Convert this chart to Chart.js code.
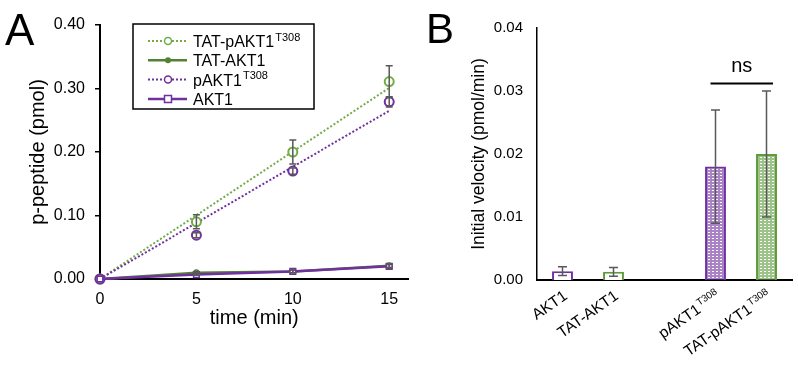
<!DOCTYPE html>
<html>
<head>
<meta charset="utf-8">
<script src="https://cdn.jsdelivr.net/npm/chart.js@4.4.1/dist/chart.umd.min.js"></script>
<style>
  html, body { margin: 0; padding: 0; background: #fff; }
  #wrap { position: relative; width: 798px; height: 369px; overflow: hidden; }
  #chartA { position: absolute; left: 0; top: 0; }
  #chartB { position: absolute; left: 415px; top: 0; }
</style>
</head>
<body>
<div id="wrap">
  <canvas id="chartA" width="415" height="369"></canvas>
  <canvas id="chartB" width="383" height="369"></canvas>
</div>
<script>
// ---- Panel A: p-peptide vs time ----
const times = [0, 5, 10, 15];
const tatPAkt = [0, 0.090, 0.200, 0.311];
const tatPAktErr = [0, 0.011, 0.019, 0.025];
const tatAkt = [0, 0.010, 0.012, 0.021];
const tatAktErr = [0, 0.001, 0.002, 0.003];
const pAkt = [0, 0.069, 0.170, 0.279];
const pAktErr = [0, 0.004, 0.005, 0.008];
const akt = [0, 0.007, 0.012, 0.020];
const aktErr = [0, 0.001, 0.002, 0.003];
// linear fits (dotted)
const trendTimes = [0, 15];
const tatPAktTrend = [0, 0.301];
const pAktTrend = [0, 0.265];
const yTicksA = [0, 0.1, 0.2, 0.3, 0.4];

// ---- Panel B: initial velocity ----
const categories = ['AKT1', 'TAT-AKT1', '', 'pAKT1', 'TAT-pAKT1'];
const categorySup = ['', '', '', 'T308', 'T308'];
const velocity = [0.0014, 0.0013, null, 0.018, 0.020];
const velocityErr = [0.0007, 0.0007, null, 0.009, 0.010];
const yTicksB = [0, 0.01, 0.02, 0.03, 0.04];

const PURPLE = '#7030A0';
const LIGHT_GREEN = '#70AD47';
const DARK_GREEN = '#548235';
const BAR_GREEN = '#5E9B3C';
const ERR_GRAY = '#595959';
const FONT = '"Liberation Sans", Arial, sans-serif';

Chart.defaults.font.family = FONT;
Chart.defaults.color = '#000';

function pts(xs, ys) {
    return xs.map((x, i) => ({ x: x, y: ys[i] }));
}

// text with a superscript part, baseline aligned
function drawSupText(ctx, x, y, main, sup, size, align) {
    ctx.font = size + 'px ' + FONT;
    const w1 = ctx.measureText(main).width;
    const supSize = Math.round(size * 0.66);
    ctx.font = supSize + 'px ' + FONT;
    const w2 = sup ? ctx.measureText(sup).width + 1 : 0;
    const start = align === 'right' ? x - w1 - w2 : x;
    ctx.textAlign = 'left';
    ctx.textBaseline = 'alphabetic';
    ctx.font = size + 'px ' + FONT;
    ctx.fillText(main, start, y);
    if (sup) {
        ctx.font = supSize + 'px ' + FONT;
        ctx.fillText(sup, start + w1 + 1, y - size * 0.4);
    }
}

function drawMarker(ctx, x, y, kind, color) {
    ctx.save();
    ctx.strokeStyle = color;
    ctx.fillStyle = '#fff';
    ctx.lineWidth = 1.5;
    ctx.setLineDash([]);
    ctx.beginPath();
    if (kind === 'open') {
        ctx.arc(x, y, 3.5, 0, Math.PI * 2);
        ctx.fill(); ctx.stroke();
    } else if (kind === 'dot') {
        ctx.fillStyle = color;
        ctx.arc(x, y, 3, 0, Math.PI * 2);
        ctx.fill();
    } else {
        ctx.rect(x - 3.5, y - 3.5, 7, 7);
        ctx.fill(); ctx.stroke();
    }
    ctx.restore();
}

// error bars for datasets that carry an "errors" array
const errorBars = {
    id: 'errorBars',
    afterDatasetsDraw(chart, args, opts) {
        const ctx = chart.ctx;
        const yScale = chart.scales.y;
        ctx.save();
        ctx.strokeStyle = ERR_GRAY;
        ctx.lineWidth = 1.5;
        chart.data.datasets.forEach((ds, i) => {
            if (!ds.errors) return;
            const meta = chart.getDatasetMeta(i);
            meta.data.forEach((el, j) => {
                const v = ds.data[j];
                const e = ds.errors[j];
                if (v == null || !e) return;
                const val = typeof v === 'object' ? v.y : v;
                const x = el.x;
                const yt = yScale.getPixelForValue(val + e);
                const yb = yScale.getPixelForValue(val - e);
                ctx.beginPath();
                ctx.moveTo(x, yt); ctx.lineTo(x, yb);
                ctx.moveTo(x - opts.cap, yt); ctx.lineTo(x + opts.cap, yt);
                ctx.moveTo(x - opts.cap, yb); ctx.lineTo(x + opts.cap, yb);
                ctx.stroke();
            });
        });
        ctx.restore();
    }
};

// legend box of panel A, drawn by hand for the superscripts
const legendA = {
    id: 'legendA',
    afterDraw(chart) {
        const ctx = chart.ctx;
        ctx.save();
        ctx.strokeStyle = '#000';
        ctx.lineWidth = 1.5;
        ctx.strokeRect(133, 24, 181, 85);
        const rows = [
            { label: 'TAT-pAKT1', sup: 'T308', color: LIGHT_GREEN, dash: true, marker: 'open' },
            { label: 'TAT-AKT1', sup: '', color: DARK_GREEN, dash: false, marker: 'dot' },
            { label: 'pAKT1', sup: 'T308', color: PURPLE, dash: true, marker: 'open' },
            { label: 'AKT1', sup: '', color: PURPLE, dash: false, marker: 'square' }
        ];
        rows.forEach((r, i) => {
            const y = 41 + i * 19.3;
            ctx.strokeStyle = r.color;
            ctx.lineWidth = r.dash ? 2 : 2.5;
            ctx.setLineDash(r.dash ? [2, 2] : []);
            ctx.beginPath();
            ctx.moveTo(148, y); ctx.lineTo(187, y);
            ctx.stroke();
            drawMarker(ctx, 168, y, r.marker, r.color);
            ctx.fillStyle = '#000';
            drawSupText(ctx, 193, y + 6, r.label, r.sup, 16, 'left');
        });
        ctx.font = '44px ' + FONT;
        ctx.textAlign = 'left';
        ctx.fillText('A', 5, 45);
        ctx.restore();
    }
};

const chartA = new Chart(document.getElementById('chartA'), {
    type: 'line',
    data: {
        datasets: [
            {
                label: 'AKT1', data: pts(times, akt), errors: aktErr,
                borderColor: PURPLE, borderWidth: 2.5, backgroundColor: '#fff',
                pointStyle: 'rect', pointRadius: 4, pointBorderWidth: 1.5, order: 1, clip: false
            },
            {
                label: 'TAT-AKT1', data: pts(times, tatAkt), errors: tatAktErr,
                borderColor: DARK_GREEN, borderWidth: 2.5, backgroundColor: DARK_GREEN,
                pointRadius: 3.5, pointBorderWidth: 0, order: 2, clip: false
            },
            {
                label: 'pAKT1 fit', data: pts(trendTimes, pAktTrend),
                borderColor: PURPLE, borderWidth: 2, borderDash: [2, 2],
                pointRadius: 0, order: 4, clip: false
            },
            {
                label: 'TAT-pAKT1 fit', data: pts(trendTimes, tatPAktTrend),
                borderColor: LIGHT_GREEN, borderWidth: 2, borderDash: [2, 2],
                pointRadius: 0, order: 5, clip: false
            },
            {
                label: 'pAKT1', data: pts(times, pAkt), errors: pAktErr, showLine: false,
                borderColor: PURPLE, backgroundColor: '#fff',
                pointRadius: 4.5, pointBorderWidth: 2, order: 3, clip: false
            },
            {
                label: 'TAT-pAKT1', data: pts(times, tatPAkt), errors: tatPAktErr, showLine: false,
                borderColor: LIGHT_GREEN, backgroundColor: '#fff',
                pointRadius: 4.5, pointBorderWidth: 2, order: 3, clip: false
            }
        ]
    },
    options: {
        responsive: false,
        animation: false,
        layout: { padding: { top: 25, right: 5, bottom: 0, left: 0 } },
        plugins: {
            legend: { display: false },
            tooltip: { enabled: false },
            errorBars: { cap: 3.5 }
        },
        scales: {
            x: {
                type: 'linear', min: 0, max: 16,
                afterBuildTicks: s => { s.ticks = times.map(v => ({ value: v })); },
                afterFit: s => { s.height = 90; },
                grid: { display: false, drawTicks: false },
                border: { color: '#000', width: 2 },
                ticks: { color: '#000', font: { size: 16 }, padding: 11, maxRotation: 0 },
                title: { display: true, text: 'time (min)', color: '#000', font: { size: 20 }, padding: { top: 0, bottom: 39 } }
            },
            y: {
                min: 0, max: 0.4,
                afterBuildTicks: s => { s.ticks = yTicksA.map(v => ({ value: v })); },
                afterFit: s => { s.width = 100; },
                grid: { drawOnChartArea: false, drawTicks: true, tickLength: 5, color: '#000', lineWidth: 1.5 },
                border: { color: '#000', width: 2 },
                ticks: { color: '#000', font: { size: 16 }, padding: 10, callback: v => v.toFixed(2) },
                title: { display: true, text: 'p-peptide (pmol)', color: '#000', font: { size: 20 }, padding: { top: 26, bottom: 0 } }
            }
        }
    },
    plugins: [errorBars, legendA]
});

// dotted fill like the spreadsheet pattern
function makePattern(color) {
    const c = document.createElement('canvas');
    c.width = 4; c.height = 3;
    const g = c.getContext('2d');
    g.fillStyle = color;
    g.globalAlpha = 0.6;
    g.fillRect(0, 0, 4, 3);
    g.globalAlpha = 1;
    g.fillStyle = '#fff';
    g.fillRect(1, 1, 2, 1);
    return g.createPattern(c, 'repeat');
}

// rotated category labels + "ns" bracket + panel letter
const labelsB = {
    id: 'labelsB',
    afterDraw(chart) {
        const ctx = chart.ctx;
        const xs = chart.scales.x, ys = chart.scales.y;
        ctx.save();
        ctx.fillStyle = '#000';
        categories.forEach((c, i) => {
            if (!c) return;
            const x = xs.getPixelForValue(i);
            ctx.save();
            ctx.translate(x + 3, ys.bottom + 14);
            ctx.rotate(-35 * Math.PI / 180);
            drawSupText(ctx, 0, 5, c, categorySup[i], 15.5, 'right');
            ctx.restore();
        });
        const xa = xs.getPixelForValue(3) - 5;
        const xb = xs.getPixelForValue(4) + 6.5;
        const yy = ys.getPixelForValue(0.0312);
        ctx.strokeStyle = '#000';
        ctx.lineWidth = 2;
        ctx.beginPath();
        ctx.moveTo(xa, yy); ctx.lineTo(xb, yy);
        ctx.stroke();
        ctx.font = '20px ' + FONT;
        ctx.textAlign = 'center';
        ctx.textBaseline = 'alphabetic';
        ctx.fillText('ns', (xa + xb) / 2, yy - 11);
        ctx.font = '42px ' + FONT;
        ctx.textAlign = 'left';
        ctx.fillText('B', 11, 43);
        ctx.restore();
    }
};

const chartB = new Chart(document.getElementById('chartB'), {
    type: 'bar',
    data: {
        labels: categories,
        datasets: [{
            data: velocity,
            errors: velocityErr,
            backgroundColor: ['#fff', '#fff', 'rgba(0,0,0,0)', makePattern(PURPLE), makePattern(BAR_GREEN)],
            borderColor: [PURPLE, BAR_GREEN, PURPLE, PURPLE, BAR_GREEN],
            borderWidth: 2,
            barPercentage: 0.41,
            categoryPercentage: 1
        }]
    },
    options: {
        responsive: false,
        animation: false,
        layout: { padding: { top: 28, right: 6, bottom: 89, left: 0 } },
        plugins: {
            legend: { display: false },
            tooltip: { enabled: false },
            errorBars: { cap: 4.5 }
        },
        scales: {
            x: {
                offset: true,
                grid: { display: false, drawTicks: false },
                ticks: { display: false },
                border: { color: '#000', width: 2 },
                afterFit: s => { s.height = 0; }
            },
            y: {
                min: 0, max: 0.04,
                afterBuildTicks: s => { s.ticks = yTicksB.map(v => ({ value: v })); },
                afterFit: s => { s.width = 122; },
                grid: { display: false, drawTicks: false },
                border: { color: '#000', width: 1.5 },
                ticks: { color: '#000', font: { size: 15 }, padding: 14, callback: v => v.toFixed(2) },
                title: { display: true, text: 'Initial velocity (pmol/min)', color: '#000', font: { size: 17.5 }, padding: { top: 54, bottom: 0 } }
            }
        }
    },
    plugins: [errorBars, labelsB]
});
</script>
</body>
</html>
